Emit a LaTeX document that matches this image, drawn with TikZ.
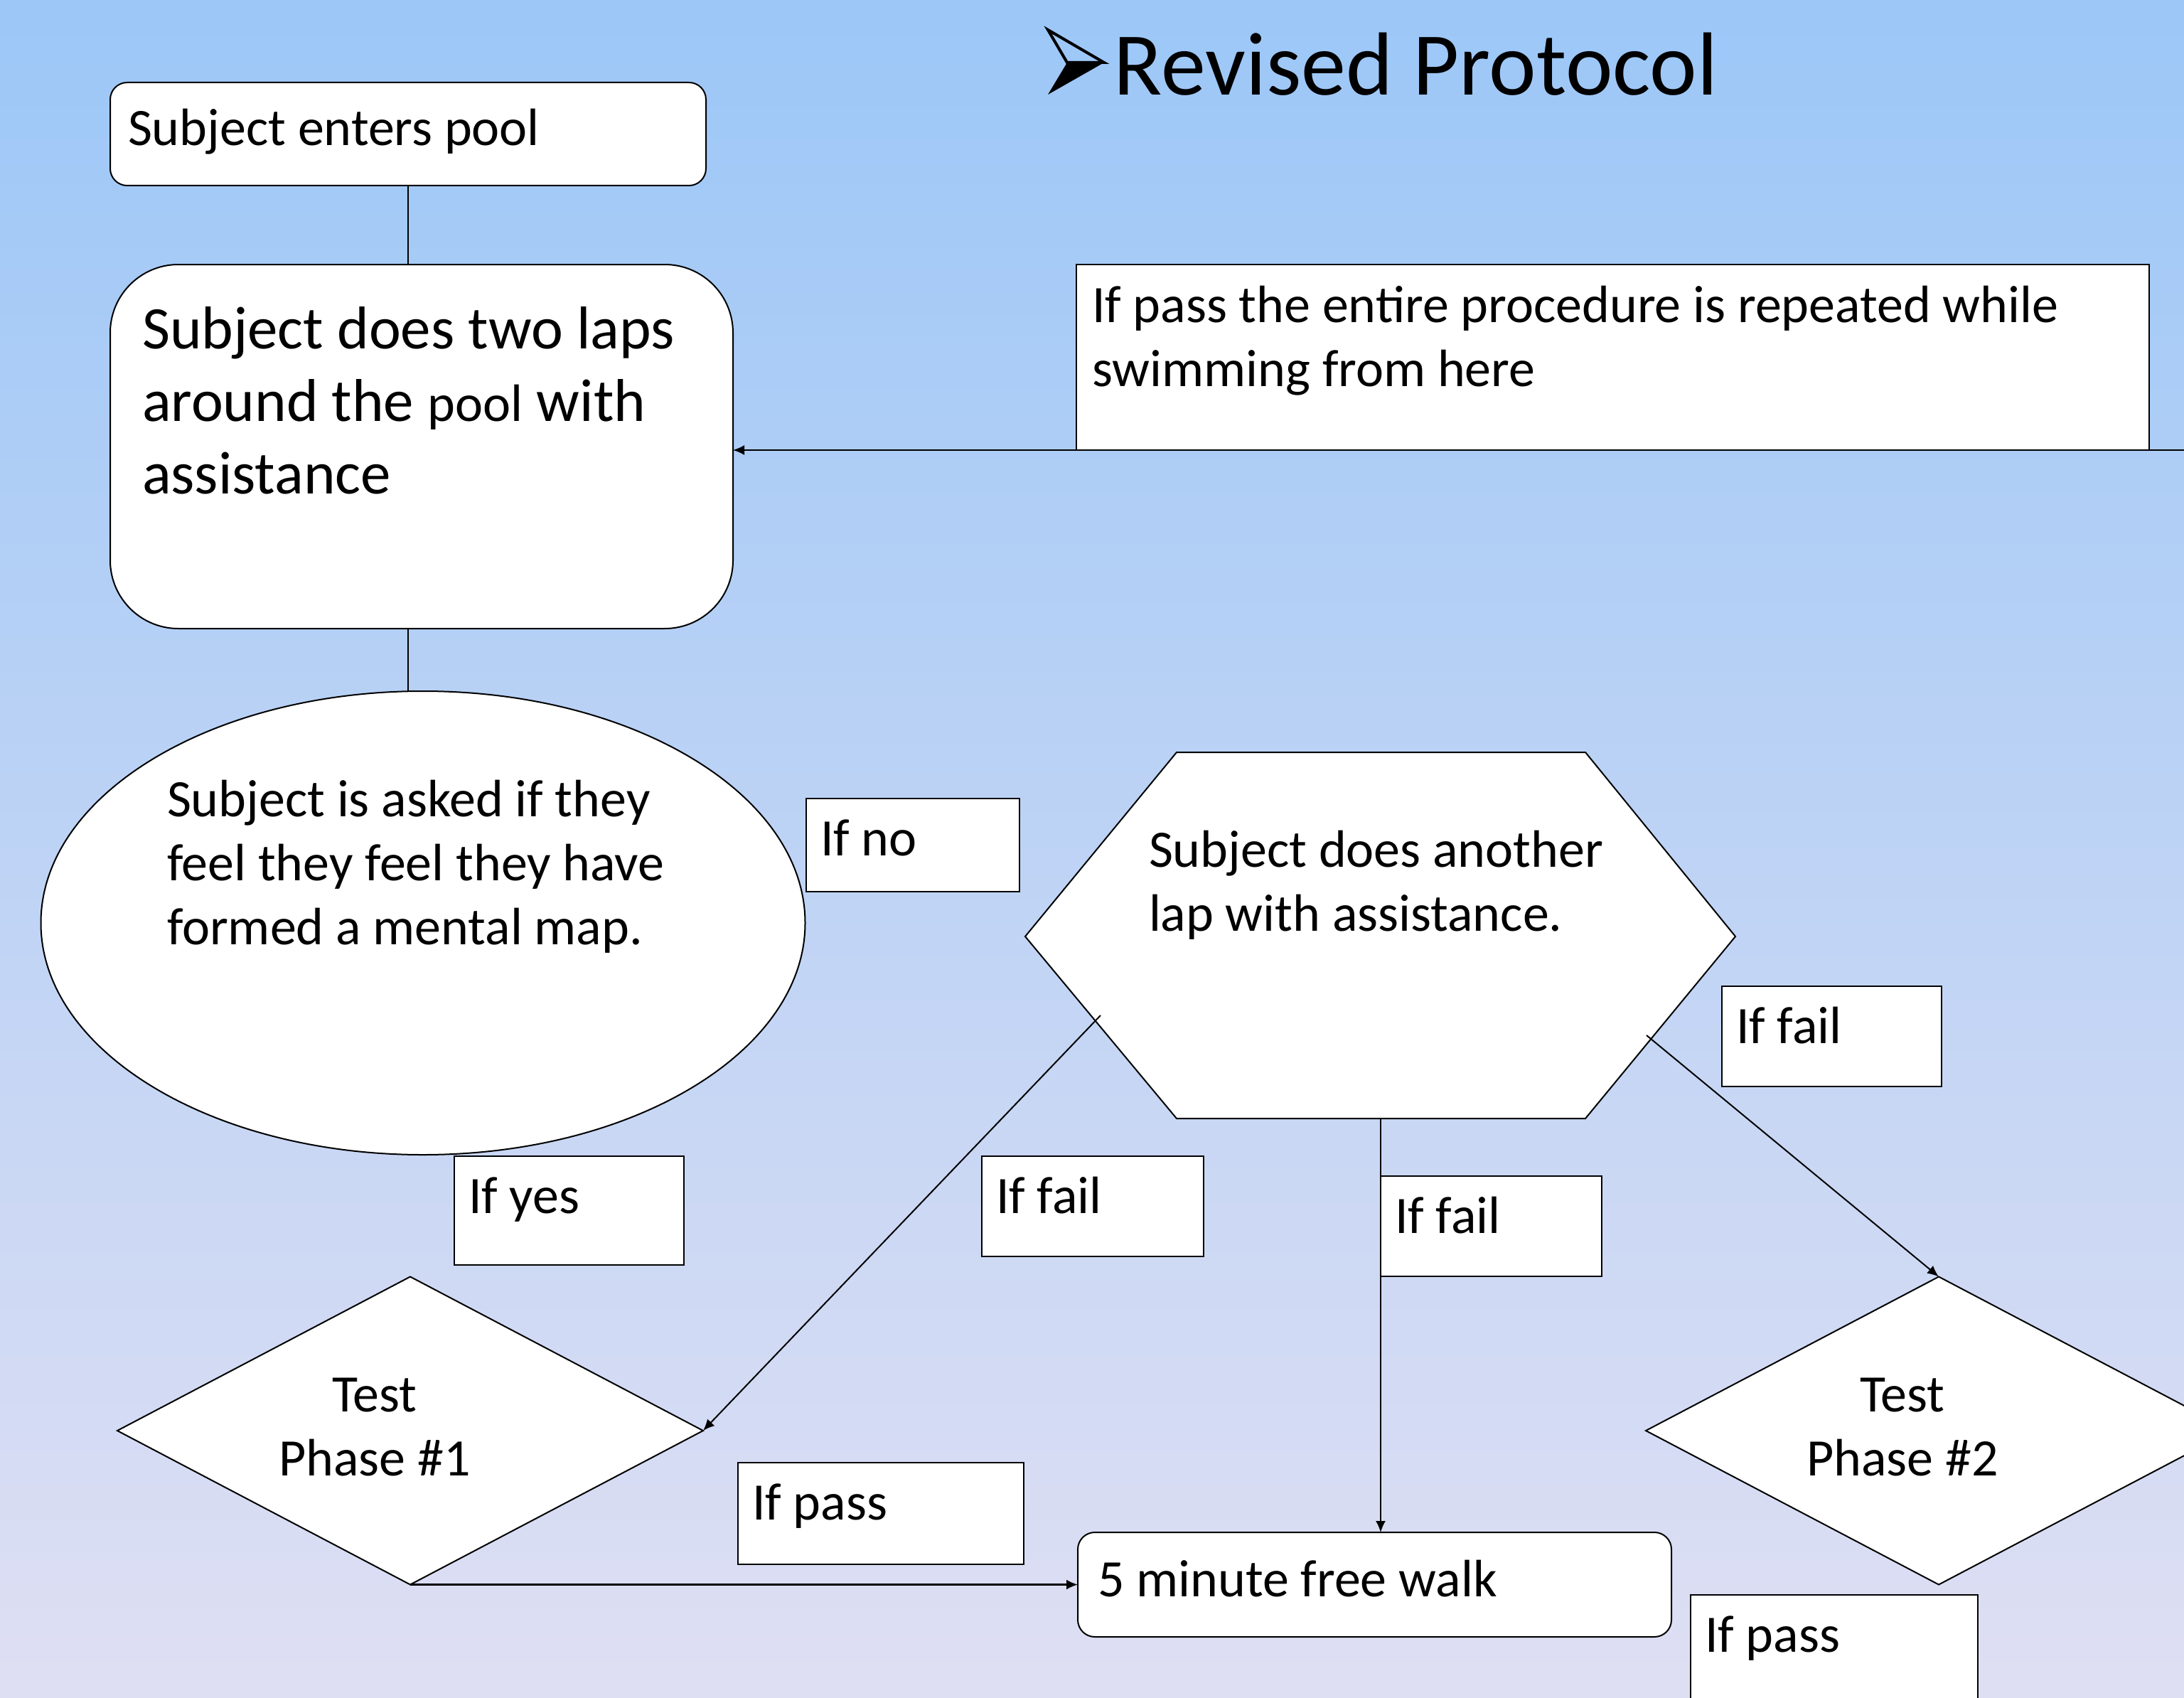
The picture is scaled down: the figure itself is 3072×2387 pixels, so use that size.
\documentclass[tikz,border=0pt]{standalone}
\usepackage{fontspec}
\setmainfont{Carlito}
\usetikzlibrary{shapes.geometric,arrows.meta,calc}
\definecolor{bgtop}{RGB}{156,199,247}
\definecolor{bgmid}{RGB}{187,211,238}
\definecolor{bgbot}{RGB}{223,223,243}
\newcommand\lstk[1]{\vtop{\halign{##\hfil\cr#1\crcr}}}
\newcommand\cstk[1]{\vtop{\halign{\hfil##\hfil\cr#1\crcr}}}
\begin{document}
\begin{tikzpicture}[x=0.25pt,y=-0.25pt,
  box/.style={draw=black, fill=white, line width=0.5pt, inner sep=0pt, outer sep=0pt, rectangle},
  rbox/.style={box, rounded corners=6pt},
  txt/.style={anchor=base west, inner sep=0pt, outer sep=0pt, font=\fontsize{18.5}{22.5}\selectfont},
  ctxt/.style={txt, anchor=base},
  conn/.style={line width=0.5pt},
  arr/.style={conn, -{Latex[length=4pt,width=3.5pt]}},
]
\useasboundingbox (0,0) rectangle (3072,2387);
\clip (0,0) rectangle (3072,2387);
\shade[top color=bgtop, middle color=bgmid, bottom color=bgbot] (0,0) rectangle (3072,2387);

% title with arrowhead bullet
\draw[line width=1pt, line join=miter] (1474,42) -- (1553,88) -- (1501,88) -- cycle;
\fill[black] (1501,88) -- (1553,88) -- (1474,133) -- cycle;
\node[anchor=base west, inner sep=0pt, font=\fontsize{31.5}{38}\selectfont] (title) at (1566,134) {Revised Protocol};

% shapes
\node[rbox, minimum width=209.5pt, minimum height=36.25pt] (enter) at (574,188.5) {};
\node[rbox, rounded corners=24pt, minimum width=219pt, minimum height=128pt] (laps) at (593,628) {};
\node[box, ellipse, minimum width=268.75pt, minimum height=163pt] (ask) at (595,1298) {};
\filldraw[fill=white, draw=black, line width=0.5pt] (1655,1058) -- (2230,1058) -- (2441,1317) -- (2230,1573) -- (1655,1573) -- (1442,1317) -- cycle;
\coordinate (hexL) at (1548,1428);
\coordinate (hexR) at (2316,1456);
\coordinate (hexB) at (1942,1573);
\node[box, diamond, minimum width=206pt, minimum height=108.25pt] (t1) at (577,2012) {};
\node[box, diamond, minimum width=206pt, minimum height=108.25pt] (t2) at (2727,2012) {};
\node[rbox, minimum width=208.75pt, minimum height=36.75pt] (walk) at (1933.5,2228.5) {};
\node[box, minimum width=377.25pt, minimum height=65.25pt] (note) at (2268.5,502.5) {};

% label boxes
\node[box, minimum width=75pt, minimum height=32.75pt] (ifno) at (1284,1188.5) {};
\node[box, minimum width=80.75pt, minimum height=38.25pt] (ifyes) at (800.5,1702.5) {};
\node[box, minimum width=78pt, minimum height=35.25pt] (iffailA) at (1537,1696.5) {};
\node[box, minimum width=77.75pt, minimum height=35.25pt] (iffailB) at (2097.5,1724.5) {};
\node[box, minimum width=77.25pt, minimum height=35.25pt] (iffailC) at (2576.5,1457.5) {};
\node[box, minimum width=100.5pt, minimum height=35.75pt] (ifpassA) at (1239,2128.5) {};
\node[box, minimum width=101pt, minimum height=44.25pt] (ifpassB) at (2580,2331.5) {};

% texts
\node[txt] (tenter) at (180,205) {Subject enters pool};
\node[txt, font=\fontsize{21.25}{25.5}\selectfont] (tlaps) at (200,490)
  {\lstk{Subject does two laps\cr around the {\fontsize{18.5}{22.5}\selectfont pool} with\cr assistance}};
\node[txt] (task) at (235,1148) {\lstk{Subject is asked if they\cr feel they feel they have\cr formed a mental map.}};
\node[txt] (thex) at (1616,1219) {\lstk{Subject does another\cr lap with assistance.}};
\node[txt] (tnote) at (1536,453) {\lstk{If pass the entire procedure is repeated while\cr swimming from here}};
\node[txt] (twalk) at (1544,2245) {5 minute free walk};
\node[ctxt] (tt1) at (527,1985) {\cstk{Test\cr Phase \#1}};
\node[ctxt] (tt2) at (2676,1985) {\cstk{Test\cr Phase \#2}};

\node[txt] at ([shift={(20,80)}]ifno.north west) (lno) {If no};
\node[txt] at ([shift={(20,80)}]ifyes.north west) (lyes) {If yes};
\node[txt] at ([shift={(20,80)}]iffailA.north west) (lfailA) {If fail};
\node[txt] at ([shift={(20,80)}]iffailB.north west) (lfailB) {If fail};
\node[txt] at ([shift={(20,80)}]iffailC.north west) (lfailC) {If fail};
\node[txt] at ([shift={(20,80)}]ifpassA.north west) (lpassA) {If pass};
\node[txt] at ([shift={(20,80)}]ifpassB.north west) (lpassB) {If pass};

% connectors
\draw[conn] (enter.south) -- (enter.south |- laps.north);
\draw[conn] (enter.south |- laps.south) -- (enter.south |- ask.north);
\coordinate (feed) at (3072,633);
\draw[arr] (feed) -- (feed -| laps.east);
\draw[arr] (hexL) -- (t1.east);
\draw[arr] (hexR) -- (t2.north);
\draw[arr] (hexB) -- (hexB |- walk.north);
\draw[arr, line width=0.6pt] (t1.south) -- (walk.west);
\end{tikzpicture}
\end{document}
